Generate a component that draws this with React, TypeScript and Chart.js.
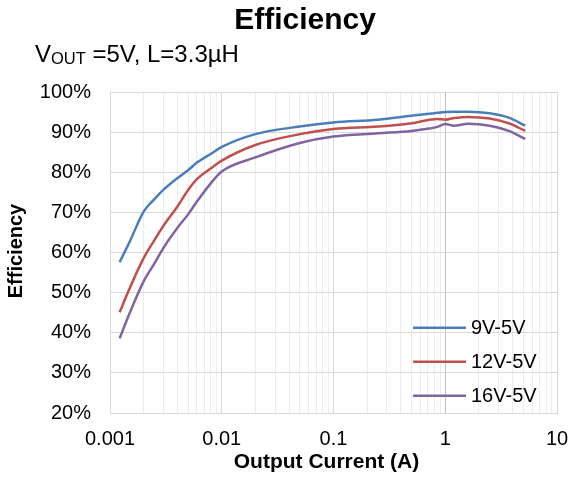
import React, { useEffect, useRef } from "react";
import { Chart, registerables } from "chart.js";

Chart.register(...registerables);

const currents = [0.00122, 0.0015, 0.002, 0.0025, 0.003, 0.004, 0.005, 0.006, 0.008, 0.01, 0.02, 0.05, 0.1, 0.25, 0.5, 0.72, 0.85, 1.0, 1.2, 1.6, 2.5, 3.7, 5.2];
const eff9V = [57.6, 62.7, 70.2, 73.3, 75.6, 78.5, 80.5, 82.4, 84.6, 86.3, 89.5, 91.4, 92.4, 93.1, 94.1, 94.6, 94.8, 95.0, 95.1, 95.1, 94.7, 93.6, 91.6];
const eff12V = [45.1, 51.1, 58.6, 63.1, 66.6, 71.4, 75.6, 78.3, 81.0, 82.9, 86.8, 89.5, 90.8, 91.4, 92.2, 93.1, 93.3, 93.1, 93.5, 93.8, 93.4, 92.2, 90.3];
const eff16V = [38.6, 44.9, 52.8, 57.3, 61.1, 66.1, 69.5, 72.7, 77.3, 80.2, 83.7, 87.3, 88.9, 89.7, 90.3, 90.9, 91.3, 92.0, 91.6, 92.1, 91.6, 90.3, 88.3];

const seriesNames = ["9V-5V", "12V-5V", "16V-5V"];
const seriesColors = ["#4A7EBB", "#C0504D", "#8064A2"];
const decades = [0.001, 0.01, 0.1, 1, 10];
const yTicks = [20, 30, 40, 50, 60, 70, 80, 90, 100];

const FONT = 'Arial, "Liberation Sans", sans-serif';

function isPow10(v: number) {
  const l = Math.log10(v);
  return Math.abs(l - Math.round(l)) < 1e-6;
}

const textPlugin = {
  id: "texts",
  afterDraw(chart: any) {
    const ctx = chart.ctx as CanvasRenderingContext2D;
    ctx.save();
    ctx.fillStyle = "#000";
    // Title
    ctx.font = `bold 30px ${FONT}`;
    ctx.textAlign = "center";
    ctx.textBaseline = "alphabetic";
    ctx.fillText("Efficiency", 305, 28.5);
    // Subtitle with subscript
    ctx.textAlign = "left";
    let x = 35;
    ctx.font = `24px ${FONT}`;
    ctx.fillText("V", x, 61.7);
    x += ctx.measureText("V").width;
    ctx.font = `16.5px ${FONT}`;
    ctx.fillText("OUT", x, 63.5);
    x += ctx.measureText("OUT").width;
    ctx.font = `24px ${FONT}`;
    ctx.fillText(" =5V, L=3.3\u00b5H", x, 61.7);
    // X axis title
    ctx.font = `bold 21px ${FONT}`;
    ctx.textAlign = "center";
    ctx.fillText("Output Current (A)", 326.5, 468);
    // Y axis title
    ctx.save();
    ctx.translate(22, 251);
    ctx.rotate(-Math.PI / 2);
    ctx.font = `bold 20px ${FONT}`;
    ctx.textAlign = "center";
    ctx.fillText("Efficiency", 0, 0);
    ctx.restore();
    // Legend
    const legendY = [327.7, 361.7, 395.7];
    for (let i = 0; i < seriesNames.length; i++) {
      ctx.strokeStyle = seriesColors[i];
      ctx.lineWidth = 2.5;
      ctx.beginPath();
      ctx.moveTo(413, legendY[i]);
      ctx.lineTo(466, legendY[i]);
      ctx.stroke();
      ctx.font = `20px ${FONT}`;
      ctx.textAlign = "left";
      ctx.textBaseline = "middle";
      ctx.fillStyle = "#000";
      ctx.fillText(seriesNames[i], 471, legendY[i] + 1);
    }
    ctx.restore();
  },
};

export default function App() {
  const canvasRef = useRef<HTMLCanvasElement | null>(null);

  useEffect(() => {
    const canvas = canvasRef.current;
    if (!canvas) return;
    const series = [eff9V, eff12V, eff16V];
    const chart = new Chart(canvas, {
      type: "line",
      data: {
        datasets: series.map((vals, i) => ({
          label: seriesNames[i],
          data: currents.map((c, j) => ({ x: c, y: vals[j] })),
          borderColor: seriesColors[i],
          backgroundColor: seriesColors[i],
          borderWidth: 2.5,
          pointRadius: 0,
          cubicInterpolationMode: "monotone",
          fill: false,
        })),
      },
      options: {
        responsive: false,
        animation: false,
        devicePixelRatio: 1,
        layout: { padding: { top: 92, right: 15, left: 0, bottom: 0 } },
        plugins: {
          legend: { display: false },
          title: { display: false },
          tooltip: { enabled: false },
        },
        scales: {
          x: {
            type: "logarithmic",
            min: 0.001,
            max: 10,
            afterBuildTicks: (scale: any) => {
              const t: { value: number }[] = [];
              for (let d = 0; d < decades.length - 1; d++) {
                for (let k = 1; k <= 9; k++) {
                  t.push({ value: parseFloat((k * decades[d]).toPrecision(6)) });
                }
              }
              t.push({ value: decades[decades.length - 1] });
              scale.ticks = t;
            },
            afterFit: (scale: any) => {
              scale.height = 65;
              scale.paddingLeft = 0;
              scale.paddingRight = 0;
            },
            ticks: {
              autoSkip: false,
              maxRotation: 0,
              padding: 14,
              color: "#000",
              font: { family: FONT, size: 20 },
              callback: (v: any) => (isPow10(Number(v)) ? String(Number(v)) : ""),
            },
            grid: {
              drawTicks: false,
              lineWidth: 1,
              color: (ctx: any) => {
                const v = ctx.tick ? ctx.tick.value : null;
                if (v == null) return "#ececec";
                if (Math.abs(v - 1) < 1e-9) return "#bfbfbf";
                if (isPow10(v)) return "#d9d9d9";
                return "#ececec";
              },
            },
            border: { display: true, color: "#d9d9d9" },
          },
          y: {
            min: 20,
            max: 100,
            afterBuildTicks: (scale: any) => {
              scale.ticks = yTicks.map((v) => ({ value: v }));
            },
            afterFit: (scale: any) => {
              scale.width = 110;
              scale.paddingTop = 0;
              scale.paddingBottom = 0;
            },
            ticks: {
              padding: 19,
              color: "#000",
              font: { family: FONT, size: 20 },
              callback: (v: any) => `${v}%`,
            },
            grid: { drawTicks: false, color: "#d9d9d9", lineWidth: 1 },
            border: { display: true, color: "#d9d9d9" },
          },
        },
      },
      plugins: [textPlugin],
    } as any);
    return () => chart.destroy();
  }, []);

  return (
    <div style={{ position: "fixed", left: 0, top: 0, width: 572, height: 478, background: "#fff" }}>
      <canvas ref={canvasRef} width={572} height={478} style={{ width: 572, height: 478 }} />
    </div>
  );
}
